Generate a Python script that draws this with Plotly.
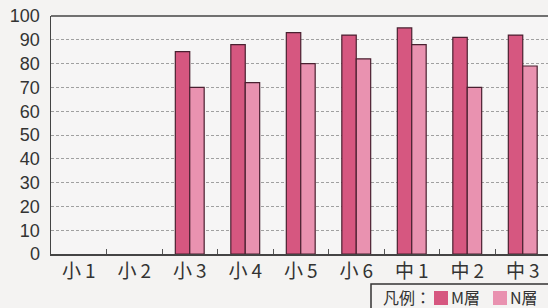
import plotly.graph_objects as go

categories = ["小1", "小2", "小3", "小4", "小5", "小6", "中1", "中2", "中3"]
m_values = [None, None, 85, 88, 93, 92, 95, 91, 92]
n_values = [None, None, 70, 72, 80, 82, 88, 70, 79]
y_ticks = [0, 10, 20, 30, 40, 50, 60, 70, 80, 90, 100]
series_names = ["M層", "N層"]
series_colors = ["#d65780", "#e992b0"]
legend_title = "凡例："

W, H = 548, 308
L, R, T, B = 51, 0, 16, 54
PW, PH = W - L - R, H - T - B

def px(x):
    return (x - L) / PW

def py(y):
    return (H - B - y) / PH

font_latin = "Liberation Sans, Arial, sans-serif"
font_cjk = "Noto Sans CJK JP, sans-serif"
edge = "#4a2030"

fig = go.Figure()
for name, vals, col in zip(series_names, [m_values, n_values], series_colors):
    fig.add_trace(go.Bar(
        x=categories, y=vals, name=name,
        marker=dict(color=col, line=dict(color=edge, width=1.2)),
        showlegend=False,
    ))

fig.update_layout(
    width=W, height=H,
    margin=dict(l=L, r=R, t=T, b=B, autoexpand=False),
    paper_bgcolor="#f4f3f2",
    plot_bgcolor="#f6f5f5",
    barmode="group",
    bargap=0.48,
    bargroupgap=0,
    font=dict(family=font_latin, color="#333333"),
    showlegend=False,
)

fig.update_xaxes(
    type="category",
    range=[-0.5, 8.455],
    tickson="boundaries",
    ticks="inside", ticklen=5, tickcolor="#555555",
    tickvals=categories,
    ticktext=[c[0] + "\u2009" + c[1:] for c in categories],
    showline=True, linecolor="#444444", linewidth=1.5,
    showgrid=False,
    automargin=False,
    tickfont=dict(size=19, family=font_cjk, color="#333333"),
    fixedrange=True,
)
fig.update_yaxes(
    range=[0, 100],
    tickvals=y_ticks,
    ticks="",
    ticklabelstandoff=6,
    automargin=False,
    showline=True, linecolor="#444444", linewidth=1.5,
    showgrid=True, gridcolor="#a0a0a0", gridwidth=1, griddash="3px,2px",
    tickfont=dict(size=18, family=font_latin, color="#333333"),
    zeroline=False,
    fixedrange=True,
)
fig.add_shape(type="line", xref="paper", yref="paper", x0=0, x1=1, y0=1, y1=1,
              line=dict(color="#444444", width=1.5))

# manual legend box
fig.add_shape(type="rect", xref="paper", yref="paper",
              x0=px(371), x1=px(560), y0=py(284), y1=py(320),
              line=dict(color="#333333", width=1.5), fillcolor="#f4f3f2", layer="above")
fig.add_annotation(xref="paper", yref="paper", x=px(381), y=py(297),
                   xanchor="left", yanchor="middle", showarrow=False,
                   text=legend_title, font=dict(size=16, family=font_cjk, color="#333333"))
sq_x = [434, 493]
for name, col, sx in zip(series_names, series_colors, sq_x):
    fig.add_shape(type="rect", xref="paper", yref="paper",
                  x0=px(sx), x1=px(sx + 14), y0=py(305), y1=py(291),
                  line=dict(width=0), fillcolor=col, layer="above")
    fig.add_annotation(xref="paper", yref="paper", x=px(sx + 15), y=py(297),
                       xanchor="left", yanchor="middle", showarrow=False,
                       text=name, font=dict(size=16, family=font_cjk, color="#333333"))

fig.write_html("out.html",
               config={"displayModeBar": False, "staticPlot": True},
               post_script="document.body.style.margin='0';document.body.style.overflow='hidden';")
